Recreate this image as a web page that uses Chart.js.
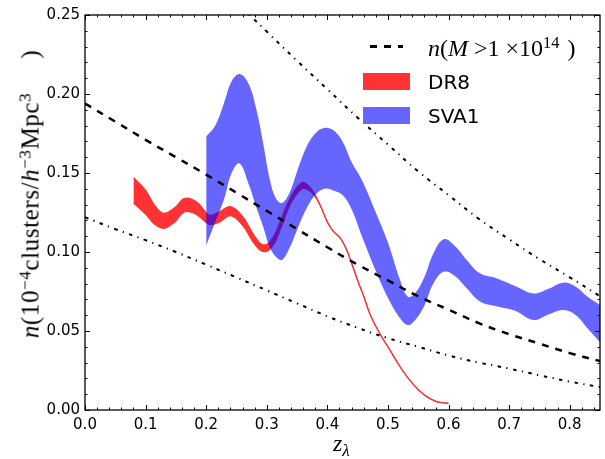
<!DOCTYPE html>
<html>
<head>
<meta charset="utf-8">
<script src="https://cdn.jsdelivr.net/npm/chart.js@4.4.1/dist/chart.umd.min.js"></script>
<style>
body { margin: 0; background: #fff; }
#wrap { position: relative; width: 605px; height: 459px; }
#chart { position: absolute; left: 0; top: 0; }
.math { position: absolute; font-family: "Liberation Serif", "DejaVu Serif", serif; color: #000; white-space: nowrap; line-height: 1; }
.math sup { font-size: 68%; vertical-align: 0; position: relative; top: -0.5em; line-height: 0; }
.math sub { font-size: 72%; vertical-align: 0; position: relative; top: 0.3em; line-height: 0; }
.leg { position: absolute; font-family: "DejaVu Sans", sans-serif; font-size: 20px; line-height: 20px; color: #000; }
.patch { position: absolute; width: 47px; height: 17px; }
</style>
</head>
<body>
<div id="wrap">
  <canvas id="chart" width="605" height="459"></canvas>

  <div class="math" id="ytitle" style="left:30px; top:194px; font-size:25px; letter-spacing:0.6px; transform: translate(-50%,-50%) rotate(-90deg);">
    <i>n</i>(10<sup>−4</sup>clusters/<i>h</i><sup>−3</sup>Mpc<sup>3</sup><span style="display:inline-block;width:34px"></span>)
  </div>
  <div class="math" style="left:333px; top:431px; font-size:24px;"><i>z</i><sub><i>λ</i></sub></div>

  <div style="position:absolute; left:370px; top:45px; width:33px; height:2.5px; background: repeating-linear-gradient(to right, #000 0 7px, transparent 7px 14px);"></div>
  <div class="math" style="left:428px; top:36px; font-size:24px;"><i>n</i>(<i>M</i> &gt;1 ×10<sup>14</sup><span style="display:inline-block;width:8px"></span>)</div>
  <div class="patch" style="left:363px; top:73px; background:#ff3333;"></div>
  <div class="leg" style="left:428px; top:72px;">DR8</div>
  <div class="patch" style="left:363px; top:107px; background:#6666ff;"></div>
  <div class="leg" style="left:428px; top:106px;">SVA1</div>
</div>

<script>
// n(M > 1e14) prediction (dashed)
const xModel = [0, 0.05, 0.1, 0.15, 0.2, 0.25, 0.3, 0.35, 0.4, 0.45, 0.5, 0.55, 0.6, 0.65, 0.7, 0.75, 0.8, 0.85];
const nModel = [0.194, 0.1825, 0.171, 0.160, 0.149, 0.1375, 0.126, 0.1145, 0.103, 0.092, 0.082, 0.072, 0.0635, 0.055, 0.048, 0.042, 0.036, 0.031];

// upper / lower dash-dot envelopes
const xUpperDD = [0.26, 0.277, 0.30, 0.35, 0.40, 0.45, 0.50, 0.55, 0.60, 0.65, 0.70, 0.75, 0.80, 0.85];
const nUpperDD = [0.254, 0.248, 0.2395, 0.221, 0.203, 0.185, 0.168, 0.151, 0.136, 0.121, 0.108, 0.0955, 0.084, 0.072];
const xLowerDD = [0, 0.05, 0.1, 0.15, 0.2, 0.25, 0.3, 0.35, 0.4, 0.45, 0.5, 0.55, 0.6, 0.65, 0.7, 0.75, 0.8, 0.85];
const nLowerDD = [0.122, 0.1145, 0.1075, 0.100, 0.092, 0.0839, 0.0757, 0.0675, 0.0593, 0.052, 0.0455, 0.040, 0.0345, 0.030, 0.0262, 0.022, 0.018, 0.0145];

// DR8 band
const xDR8 = [0.08, 0.10, 0.115, 0.13, 0.148, 0.165, 0.185, 0.205, 0.222, 0.24, 0.26, 0.28, 0.295, 0.31, 0.325, 0.34, 0.358, 0.37, 0.38,
              0.39, 0.40, 0.41, 0.42, 0.43, 0.44, 0.45, 0.46, 0.47, 0.48, 0.49, 0.50, 0.52, 0.54, 0.56, 0.58, 0.60];
const dr8High = [0.147, 0.139, 0.1295, 0.1245, 0.128, 0.134, 0.1315, 0.1234, 0.1255, 0.1287, 0.1225, 0.110, 0.1044, 0.109, 0.122, 0.135, 0.1439, 0.1415, 0.136,
                 0.128, 0.119, 0.113, 0.1095, 0.103, 0.093, 0.082, 0.072, 0.061, 0.053, 0.046, 0.040, 0.0274, 0.017, 0.0095, 0.0053, 0.0042];
const dr8Low = [0.131, 0.124, 0.1175, 0.115, 0.119, 0.1255, 0.1235, 0.1175, 0.119, 0.123, 0.117, 0.105, 0.1002, 0.104, 0.117, 0.131, 0.140, 0.139, 0.135,
                0.128, 0.119, 0.113, 0.1095, 0.103, 0.093, 0.082, 0.072, 0.061, 0.053, 0.046, 0.040, 0.0274, 0.017, 0.0095, 0.0053, 0.0042];

// SVA1 band
const xSVA1 = [0.20, 0.215, 0.23, 0.242, 0.255, 0.27, 0.283, 0.294, 0.305, 0.315, 0.325, 0.337, 0.35, 0.365, 0.38, 0.395, 0.41, 0.425, 0.44, 0.457,
               0.48, 0.50, 0.52, 0.533, 0.545, 0.56, 0.575, 0.592, 0.61, 0.63, 0.652, 0.68, 0.71, 0.74, 0.765, 0.79, 0.81, 0.83, 0.85];
const sva1High = [0.173, 0.180, 0.195, 0.208, 0.2127, 0.2065, 0.190, 0.169, 0.146, 0.134, 0.131, 0.137, 0.151, 0.166, 0.175, 0.1785, 0.177, 0.170, 0.157, 0.1456,
                  0.125, 0.106, 0.0823, 0.0717, 0.074, 0.084, 0.099, 0.108, 0.104, 0.095, 0.0865, 0.0833, 0.0785, 0.0738, 0.0768, 0.0806, 0.078, 0.0715, 0.0665];
const sva1Low = [0.104, 0.119, 0.134, 0.150, 0.156, 0.143, 0.128, 0.116, 0.103, 0.097, 0.095, 0.102, 0.114, 0.127, 0.136, 0.140, 0.139, 0.136, 0.127, 0.110,
                 0.088, 0.071, 0.058, 0.0538, 0.057, 0.066, 0.080, 0.0875, 0.085, 0.077, 0.0686, 0.0655, 0.0628, 0.057, 0.0605, 0.0633, 0.060, 0.0515, 0.043];

const xTicks = [0, 0.1, 0.2, 0.3, 0.4, 0.5, 0.6, 0.7, 0.8];
const yTicks = [0, 0.05, 0.10, 0.15, 0.20, 0.25];

const pts = (xs, ys) => xs.map((x, i) => ({ x: x, y: ys[i] }));

const RED = '#ff3333';
const BLUE = 'rgba(0,0,255,0.6)';

// frame with inward ticks on all four sides (matplotlib classic look)
const frameTicks = {
    id: 'frameTicks',
    afterDatasetsDraw(chart) {
        const { ctx, chartArea: a, scales } = chart;
        const sx = scales.x, sy = scales.y;
        ctx.save();
        ctx.strokeStyle = '#000';
        ctx.lineWidth = 1;
        const tick = (x1, y1, x2, y2) => { ctx.beginPath(); ctx.moveTo(x1, y1); ctx.lineTo(x2, y2); ctx.stroke(); };
        for (let v = 0; v <= 0.85 + 1e-9; v += 0.02) {
            const p = Math.round(sx.getPixelForValue(v)) + 0.5;
            const major = xTicks.some(t => Math.abs(t - v) < 1e-6);
            const L = major ? 5 : 2.5;
            tick(p, a.bottom, p, a.bottom - L);
            tick(p, a.top, p, a.top + L);
        }
        for (let v = 0; v <= 0.25 + 1e-9; v += 0.01) {
            const p = Math.round(sy.getPixelForValue(v)) + 0.5;
            const major = yTicks.some(t => Math.abs(t - v) < 1e-6);
            const L = major ? 5 : 2.5;
            tick(a.left, p, a.left + L, p);
            tick(a.right, p, a.right - L, p);
        }
        ctx.lineWidth = 1.3;
        ctx.strokeRect(a.left, a.top, a.right - a.left, a.bottom - a.top);
        ctx.restore();
    }
};

new Chart(document.getElementById('chart'), {
    type: 'line',
    data: {
        datasets: [
            { data: pts(xModel, nModel), borderColor: '#000', borderWidth: 2.5, borderDash: [7, 7], order: 0 },
            { data: pts(xUpperDD, nUpperDD), borderColor: '#000', borderWidth: 2, borderDash: [3.5, 5.5, 1.2, 5.5], order: 0 },
            { data: pts(xLowerDD, nLowerDD), borderColor: '#000', borderWidth: 2, borderDash: [3.5, 5.5, 1.2, 5.5], order: 0 },
            { data: pts(xSVA1, sva1Low), borderColor: 'transparent', borderWidth: 0, order: 1 },
            { data: pts(xSVA1, sva1High), borderColor: 'transparent', borderWidth: 0, backgroundColor: BLUE, fill: '-1', order: 1 },
            { data: pts(xDR8, dr8Low), borderColor: RED, borderWidth: 1.2, order: 2 },
            { data: pts(xDR8, dr8High), borderColor: RED, borderWidth: 1.2, backgroundColor: RED, fill: '-1', order: 2 }
        ]
    },
    options: {
        responsive: false,
        animation: false,
        devicePixelRatio: 1,
        elements: { point: { radius: 0 }, line: { tension: 0.4, borderCapStyle: 'butt' } },
        layout: { padding: { left: 0, right: 5, top: 15, bottom: 0 } },
        plugins: { legend: { display: false }, tooltip: { enabled: false } },
        scales: {
            x: {
                type: 'linear', min: 0, max: 0.85,
                grid: { display: false, drawTicks: false },
                border: { display: false },
                afterBuildTicks: s => { s.ticks = xTicks.map(v => ({ value: v })); },
                afterFit: s => { s.height = 49; },
                ticks: {
                    font: { family: 'DejaVu Sans', size: 15 }, color: '#000', padding: 6,
                    maxRotation: 0, autoSkip: false,
                    callback: v => v.toFixed(1)
                }
            },
            y: {
                type: 'linear', min: 0, max: 0.25,
                grid: { display: false, drawTicks: false },
                border: { display: false },
                afterBuildTicks: s => { s.ticks = yTicks.map(v => ({ value: v })); },
                afterFit: s => { s.width = 85; },
                ticks: {
                    font: { family: 'DejaVu Sans', size: 15 }, color: '#000', padding: 5,
                    autoSkip: false,
                    callback: v => v.toFixed(2)
                }
            }
        }
    },
    plugins: [frameTicks]
});
</script>
</body>
</html>
